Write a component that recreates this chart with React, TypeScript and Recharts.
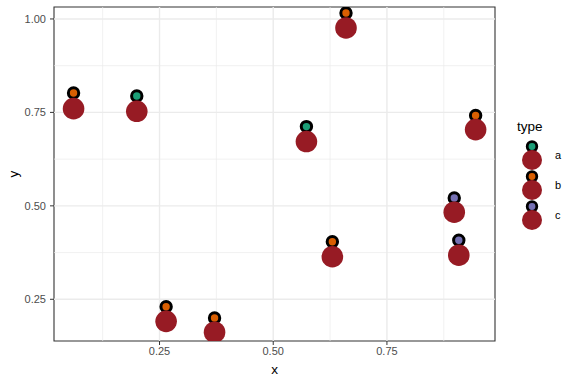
import React from 'react';
import { ScatterChart, Scatter, XAxis, YAxis, ReferenceLine, ReferenceArea } from 'recharts';

const xs = [0.061, 0.2, 0.2645, 0.371, 0.573, 0.66, 0.63, 0.898, 0.908, 0.945];
const yBig = [0.76, 0.753, 0.191, 0.162, 0.672, 0.976, 0.364, 0.483, 0.368, 0.704];
const ySmall = [0.802, 0.794, 0.23, 0.2, 0.712, 1.016, 0.404, 0.521, 0.408, 0.742];
const types = ['b', 'a', 'b', 'b', 'a', 'b', 'b', 'c', 'c', 'b'];

const typeLevels = ['a', 'b', 'c'];
const typeColors: Record<string, string> = { a: '#1B9E77', b: '#D95F02', c: '#7570B3' };
const bigColor = '#971B24';

const xTicks = [0.25, 0.5, 0.75];
const yTicks = [0.25, 0.5, 0.75, 1.0];
const xMinor = [0.125, 0.375, 0.625, 0.875];
const yMinor = [0.375, 0.625, 0.875];
const xDomain: [number, number] = [0.018, 0.9876];
const yDomain: [number, number] = [0.1384, 1.032];

const FONT = '"Liberation Sans", Arial, Helvetica, sans-serif';

const bigData = xs.map((x, i) => ({ x, y: yBig[i] }));
const smallData = typeLevels.map((t) =>
  xs.map((x, i) => ({ x, y: ySmall[i], t: types[i] })).filter((d) => d.t === t)
);

const SMALL_R = 5.2;
const SMALL_SW = 3;
const BIG_R = 10.8;

const smallShape = (color: string) => (p: any) => (
  <circle cx={p.cx} cy={p.cy} r={SMALL_R} fill={color} stroke="#000" strokeWidth={SMALL_SW} />
);
const bigShape = (p: any) => <circle cx={p.cx} cy={p.cy} r={BIG_R} fill={bigColor} />;

const fmt = (v: number) => v.toFixed(2);

const Legend = () => (
  <svg width={76} height={130} style={{ position: 'absolute', left: 500, top: 110 }}>
    <text x={17} y={20.5} fontFamily={FONT} fontSize={13.5} fill="#000">
      type
    </text>
    {typeLevels.map((t, i) => {
      const base = 36.5 + i * 30;
      return (
        <g key={t}>
          <circle cx={32} cy={base} r={4.8} fill={typeColors[t]} stroke="#000" strokeWidth={2.8} />
          <circle cx={32} cy={base + 13.5} r={10} fill={bigColor} />
          <text x={55} y={base + 12.5} fontFamily={FONT} fontSize={11} fill="#000">
            {t}
          </text>
        </g>
      );
    })}
  </svg>
);

const tickStyle = { fill: '#4D4D4D', stroke: 'none', fontSize: 11, fontFamily: FONT };

export default function App() {
  return (
    <div style={{ position: 'absolute', left: 0, top: 0, width: 576, height: 384, background: '#fff' }}>
      <ScatterChart width={576} height={384} margin={{ top: 7, right: 81, bottom: 0, left: 0 }}>
        <XAxis
          type="number"
          dataKey="x"
          domain={xDomain}
          ticks={xTicks}
          tickFormatter={fmt}
          allowDataOverflow
          axisLine={false}
          tickLine={{ stroke: '#333333', strokeWidth: 1 }}
          tickSize={4}
          tickMargin={2}
          height={43}
          tick={tickStyle}
          label={{
            content: (props: any) => {
              const vb = props.viewBox || { x: 54, y: 341, width: 441, height: 43 };
              return (
                <text
                  x={vb.x + vb.width / 2}
                  y={vb.y + 32.5}
                  textAnchor="middle"
                  fontFamily={FONT}
                  fontSize={13.5}
                  fill="#000"
                >
                  x
                </text>
              );
            },
          }}
        />
        <YAxis
          type="number"
          dataKey="y"
          domain={yDomain}
          ticks={yTicks}
          tickFormatter={fmt}
          allowDataOverflow
          axisLine={false}
          tickLine={{ stroke: '#333333', strokeWidth: 1 }}
          tickSize={4}
          tickMargin={4}
          width={54}
          tick={tickStyle}
          label={{
            content: (props: any) => {
              const vb = props.viewBox || { x: 0, y: 7, width: 54, height: 334 };
              const cx = vb.x + 18;
              const cy = vb.y + vb.height / 2;
              return (
                <text
                  x={cx}
                  y={cy}
                  textAnchor="middle"
                  transform={`rotate(-90, ${cx}, ${cy})`}
                  fontFamily={FONT}
                  fontSize={13.5}
                  fill="#000"
                >
                  y
                </text>
              );
            },
          }}
        />
        {xMinor.map((v) => (
          <ReferenceLine key={'xm' + v} x={v} stroke="#EBEBEB" strokeWidth={0.7} />
        ))}
        {yMinor.map((v) => (
          <ReferenceLine key={'ym' + v} y={v} stroke="#EBEBEB" strokeWidth={0.7} />
        ))}
        {xTicks.map((v) => (
          <ReferenceLine key={'xM' + v} x={v} stroke="#EBEBEB" strokeWidth={1.4} />
        ))}
        {yTicks.map((v) => (
          <ReferenceLine key={'yM' + v} y={v} stroke="#EBEBEB" strokeWidth={1.4} />
        ))}
        {typeLevels.map((t, i) => (
          <Scatter
            key={t}
            name={t}
            data={smallData[i]}
            shape={smallShape(typeColors[t])}
            isAnimationActive={false}
          />
        ))}
        <Scatter name="big" data={bigData} shape={bigShape} isAnimationActive={false} />
        <ReferenceArea
          x1={xDomain[0]}
          x2={xDomain[1]}
          y1={yDomain[0]}
          y2={yDomain[1]}
          fill="none"
          fillOpacity={0}
          stroke="#333333"
          strokeWidth={1.1}
          ifOverflow="visible"
        />
      </ScatterChart>
      <Legend />
    </div>
  );
}
